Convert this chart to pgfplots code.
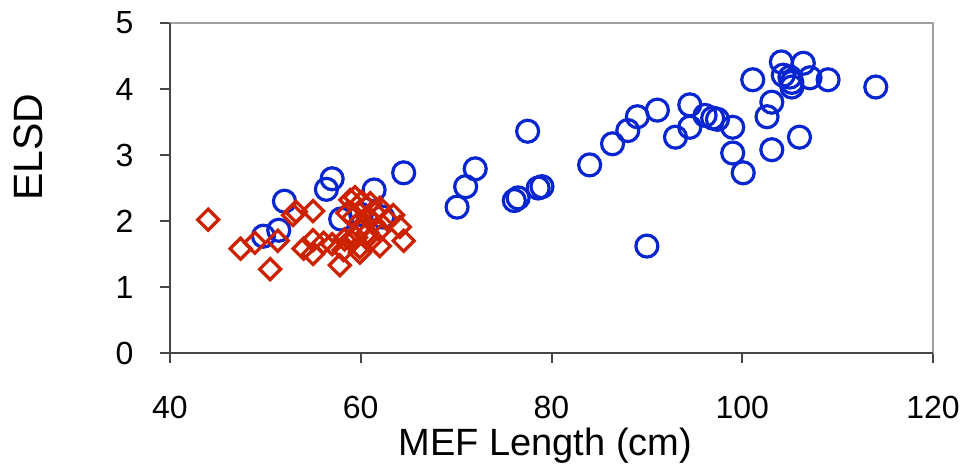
\documentclass[border=0pt]{standalone}
\usepackage{fontspec}
\setmainfont{Liberation Sans}
\usepackage{pgfplots}
\pgfplotsset{compat=1.18}

\definecolor{cblue}{RGB}{8,38,208}
\definecolor{cred}{RGB}{204,34,0}
\definecolor{darkax}{RGB}{70,70,70}
\definecolor{lightax}{RGB}{160,160,160}

\begin{document}
\begin{tikzpicture}
\begin{axis}[
    scale only axis,
    width=763pt, height=330pt,
    xmin=40, xmax=120, ymin=0, ymax=5,
    xtick={40,60,80,100,120},
    ytick={0,1,2,3,4,5},
    xtick pos=bottom, ytick pos=left,
    tick align=outside,
    major tick length=10pt,
    every tick/.style={draw=darkax, line width=2pt},
    axis line style={draw=lightax, line width=2.5pt},
    /pgf/number format/assume math mode=true,
    tick label style={font=\fontsize{32}{32}\selectfont},
    xticklabel style={yshift=-30pt},
    yticklabel style={xshift=-23pt},
    xlabel={MEF Length (cm)},
    ylabel={ELSD},
    xlabel style={font=\fontsize{38}{38}\selectfont, at={(axis description cs:0.492,0)}, anchor=base, yshift=-102pt},
    ylabel style={font=\fontsize{41}{41}\selectfont, at={(axis description cs:-0.186,0.624)}, anchor=center},
    clip=false,
]
\addplot[only marks, mark=o, mark size=11pt, cblue, line width=3.2pt] coordinates {
(49.8,1.77) (51.4,1.86) (52.0,2.30) (56.4,2.48) (57.0,2.64) (57.9,2.03)
(61.4,2.47) (64.5,2.73) (60.0,2.10) (62.3,2.06) (70.1,2.21) (71.0,2.52)
(72.0,2.79) (77.5,3.36) (76.1,2.31) (76.5,2.35) (78.6,2.50) (79.0,2.52)
(84.0,2.85) (90.0,1.62) (86.4,3.17) (88.0,3.37) (89.0,3.58) (91.1,3.68)
(93.0,3.27) (94.5,3.42) (94.5,3.76) (96.1,3.60) (96.9,3.56) (97.4,3.54)
(99.0,3.42) (99.0,3.03) (100.1,2.73) (101.1,4.14) (103.1,3.80) (102.6,3.58)
(103.1,3.08) (106.0,3.27) (104.1,4.41) (106.4,4.39) (104.3,4.21) (105.0,4.18)
(105.2,4.03) (105.2,4.10) (107.1,4.17) (109.0,4.14) (114.0,4.03)
};
\addplot[only marks, mark=square, mark size=7.4pt, mark options={rotate=45}, cred, line width=3.3pt] coordinates {
(44.0,2.02) (47.4,1.58) (48.9,1.67) (50.5,1.27) (51.3,1.70) (52.9,2.09)
(53.2,2.14) (55.0,2.15) (54.0,1.58) (55.0,1.71) (55.0,1.50) (56.1,1.67)
(57.0,1.65) (57.8,1.33) (58.3,1.72) (58.9,2.32) (59.4,2.36) (58.6,2.12)
(59.2,2.05) (60.1,2.29) (61.0,2.27) (62.0,2.20) (63.4,2.09) (64.1,1.91)
(64.5,1.70) (62.0,1.62) (59.9,1.60) (59.9,1.52) (58.9,1.71) (60.7,1.82)
(61.3,1.97) (62.0,1.86) (62.8,2.02) (58.2,1.56) (60.7,2.06) (61.5,2.12)
(60.3,1.95) (59.5,1.75) (61.0,1.70)
};
\draw[darkax, line width=2.5pt] (rel axis cs:0,1) -- (rel axis cs:0,0) -- (rel axis cs:1,0);
\coordinate (bl) at (rel axis cs:0,0);
\coordinate (tr) at (rel axis cs:1,1);
\end{axis}
\pgfresetboundingbox
\path[use as bounding box] ([shift={(-170pt,-111pt)}]bl) rectangle ([shift={(30pt,23pt)}]tr);
\end{tikzpicture}
\end{document}
